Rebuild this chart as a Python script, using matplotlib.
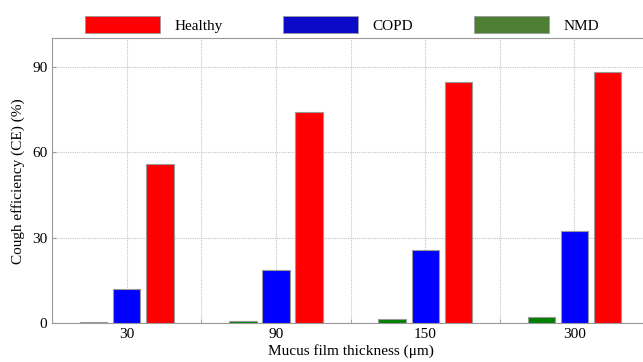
import matplotlib.pyplot as plt
import numpy as np
from matplotlib.patches import Patch

# mucus film thickness (um) and cough efficiency (%) per group
THICKNESS = ["30", "90", "150", "300"]
HEALTHY = [56.0, 74.1, 84.6, 88.3]
COPD = [12.1, 18.7, 25.7, 32.4]
NMD = [0.3, 0.9, 1.4, 2.3]

BAR_COLORS = {"Healthy": "#ff0000", "COPD": "#0000ff", "NMD": "#008000"}
LEGEND_COLORS = {"Healthy": "#ff0000", "COPD": "#0a0ac8", "NMD": "#4f7f33"}
GRAY = "#9a9a9a"

plt.rcParams.update({
    "font.family": "Liberation Serif",
    "font.size": 11,
})


def main():
    fig = plt.figure(figsize=(6.43, 3.62), dpi=100)
    ax = fig.add_axes([0.0812, 0.1069, 0.928, 0.787])

    x = np.arange(1, len(THICKNESS) + 1)
    width = 0.183
    step = 0.222
    series = [("NMD", NMD, -step), ("COPD", COPD, 0.0), ("Healthy", HEALTHY, step)]
    for name, vals, off in series:
        ax.bar(x + off, vals, width=width, color=BAR_COLORS[name],
               edgecolor=GRAY, linewidth=0.8, zorder=3)

    ax.set_xlim(0.5, 4.5)
    ax.set_ylim(0, 100)
    ax.set_xticks(x)
    ax.set_xticklabels(THICKNESS)
    ax.set_xticks(x[:-1] + 0.5, minor=True)
    ax.set_yticks([0, 30, 60, 90])

    grid_kw = dict(ls=(0, (1, 1)), color="#c4c4c4", lw=0.8)
    ax.grid(True, which="both", axis="x", **grid_kw)
    ax.grid(True, which="major", axis="y", **grid_kw)
    ax.set_axisbelow(True)

    ax.tick_params(which="both", direction="in", length=3, color=GRAY,
                   labelsize=11, top=False, right=False)
    for sp in ax.spines.values():
        sp.set_color(GRAY)
        sp.set_linewidth(0.8)

    ax.set_xlabel("Mucus film thickness (\u03bcm)", fontsize=11, labelpad=2)
    ax.set_ylabel("Cough efficiency (CE) (%)", fontsize=11, labelpad=5)

    handles = [Patch(facecolor=LEGEND_COLORS[n], edgecolor=GRAY, linewidth=0.6, label=n)
               for n in ("Healthy", "COPD", "NMD")]
    fig.legend(handles=handles, loc="center", ncol=3, frameon=False,
               bbox_to_anchor=(342 / 643, 1 - 24.5 / 362),
               handlelength=4.9, handleheight=1.37, handletextpad=0.95,
               columnspacing=3.95, fontsize=11)

    fig.savefig("out.png", dpi=100)
    plt.close(fig)


if __name__ == "__main__":
    main()
